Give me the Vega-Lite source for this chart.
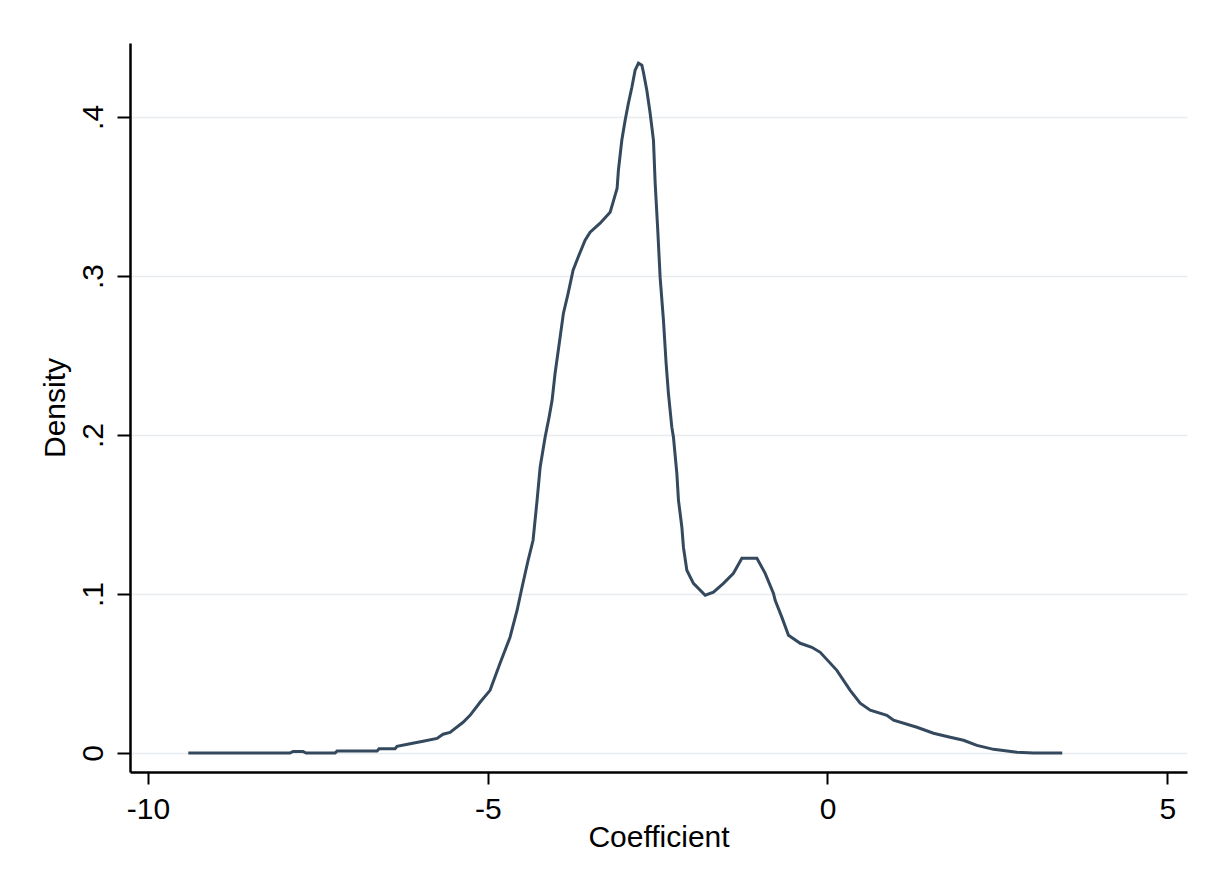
{
  "$schema": "https://vega.github.io/schema/vega-lite/v6.json",
  "width": 1057,
  "height": 729,
  "autosize": "none",
  "padding": {"left": 130, "top": 43, "right": 21, "bottom": 110},
  "background": "white",
  "config": {
    "view": {"stroke": null},
    "font": "Liberation Sans"
  },
  "data": {
    "values": [
      {"coef": -9.407, "density": 0},
      {"coef": -8.499, "density": 0},
      {"coef": -7.910, "density": 0},
      {"coef": -7.866, "density": 0.001},
      {"coef": -7.719, "density": 0.001},
      {"coef": -7.674, "density": 0},
      {"coef": -7.248, "density": 0},
      {"coef": -7.218, "density": 0.0012},
      {"coef": -6.629, "density": 0.0012},
      {"coef": -6.600, "density": 0.0027},
      {"coef": -6.364, "density": 0.0027},
      {"coef": -6.335, "density": 0.0042},
      {"coef": -6.143, "density": 0.0058},
      {"coef": -5.952, "density": 0.0074},
      {"coef": -5.746, "density": 0.0092},
      {"coef": -5.658, "density": 0.0118},
      {"coef": -5.555, "density": 0.013},
      {"coef": -5.363, "density": 0.0193},
      {"coef": -5.260, "density": 0.0237},
      {"coef": -5.113, "density": 0.0319},
      {"coef": -4.966, "density": 0.0394},
      {"coef": -4.819, "density": 0.0564},
      {"coef": -4.672, "density": 0.0728},
      {"coef": -4.568, "density": 0.0898},
      {"coef": -4.495, "density": 0.1042},
      {"coef": -4.406, "density": 0.1212},
      {"coef": -4.333, "density": 0.1338},
      {"coef": -4.274, "density": 0.1589},
      {"coef": -4.229, "density": 0.1797},
      {"coef": -4.156, "density": 0.1986},
      {"coef": -4.097, "density": 0.2112},
      {"coef": -4.053, "density": 0.2218},
      {"coef": -4.009, "density": 0.2388},
      {"coef": -3.935, "density": 0.2615},
      {"coef": -3.886, "density": 0.2766},
      {"coef": -3.817, "density": 0.2891},
      {"coef": -3.744, "density": 0.3036},
      {"coef": -3.670, "density": 0.3118},
      {"coef": -3.567, "density": 0.3225},
      {"coef": -3.493, "density": 0.3275},
      {"coef": -3.346, "density": 0.3332},
      {"coef": -3.199, "density": 0.3401},
      {"coef": -3.155, "density": 0.3464},
      {"coef": -3.096, "density": 0.3552},
      {"coef": -3.077, "density": 0.3665},
      {"coef": -3.027, "density": 0.3853},
      {"coef": -2.978, "density": 0.3979},
      {"coef": -2.930, "density": 0.4086},
      {"coef": -2.879, "density": 0.4187},
      {"coef": -2.831, "density": 0.4294},
      {"coef": -2.782, "density": 0.4338},
      {"coef": -2.732, "density": 0.4325},
      {"coef": -2.709, "density": 0.4281},
      {"coef": -2.659, "density": 0.4168},
      {"coef": -2.610, "density": 0.4023},
      {"coef": -2.561, "density": 0.3853},
      {"coef": -2.536, "density": 0.3583},
      {"coef": -2.500, "density": 0.3306},
      {"coef": -2.463, "density": 0.2991},
      {"coef": -2.414, "density": 0.2721},
      {"coef": -2.375, "density": 0.2451},
      {"coef": -2.341, "density": 0.2262},
      {"coef": -2.291, "density": 0.2049},
      {"coef": -2.267, "density": 0.1986},
      {"coef": -2.217, "density": 0.1759},
      {"coef": -2.193, "density": 0.1589},
      {"coef": -2.143, "density": 0.1420},
      {"coef": -2.120, "density": 0.1294},
      {"coef": -2.070, "density": 0.1149},
      {"coef": -1.973, "density": 0.1067},
      {"coef": -1.800, "density": 0.0992},
      {"coef": -1.678, "density": 0.1011},
      {"coef": -1.531, "density": 0.1067},
      {"coef": -1.384, "density": 0.1130},
      {"coef": -1.260, "density": 0.1224},
      {"coef": -1.039, "density": 0.1224},
      {"coef": -0.917, "density": 0.1130},
      {"coef": -0.795, "density": 0.1004},
      {"coef": -0.770, "density": 0.0960},
      {"coef": -0.671, "density": 0.0853},
      {"coef": -0.574, "density": 0.0740},
      {"coef": -0.402, "density": 0.0690},
      {"coef": -0.230, "density": 0.0665},
      {"coef": -0.107, "density": 0.0633},
      {"coef": 0.138, "density": 0.0520},
      {"coef": 0.334, "density": 0.0394},
      {"coef": 0.481, "density": 0.0313},
      {"coef": 0.629, "density": 0.0269},
      {"coef": 0.874, "density": 0.0237},
      {"coef": 0.972, "density": 0.0206},
      {"coef": 1.316, "density": 0.0162},
      {"coef": 1.560, "density": 0.0124},
      {"coef": 1.806, "density": 0.0099},
      {"coef": 2.002, "density": 0.0080},
      {"coef": 2.199, "density": 0.0048},
      {"coef": 2.444, "density": 0.0023},
      {"coef": 2.788, "density": 0.0004},
      {"coef": 3.033, "density": 0},
      {"coef": 3.455, "density": 0}
    ]
  },
  "mark": {"type": "line", "color": "#34495e", "strokeWidth": 3, "interpolate": "linear"},
  "encoding": {
    "x": {
      "field": "coef",
      "type": "quantitative",
      "scale": {"domain": [-10.265, 5.291], "nice": false, "zero": false},
      "axis": {
        "title": "Coefficient",
        "values": [-10, -5, 0, 5],
        "labelExpr": "'' + datum.value",
        "grid": false,
        "domainColor": "black",
        "domainWidth": 2.5,
        "tickColor": "black",
        "tickWidth": 2,
        "tickSize": 12,
        "labelPadding": 10,
        "labelFontSize": 30,
        "labelColor": "black",
        "labelFont": "Liberation Sans",
        "labelBaseline": "top",
        "titleFontSize": 30,
        "titleFontWeight": "normal",
        "titleColor": "black",
        "titleFont": "Liberation Sans",
        "titleBaseline": "alphabetic",
        "titleY": 74
      }
    },
    "y": {
      "field": "density",
      "type": "quantitative",
      "scale": {"domain": [-0.01195, 0.4465], "nice": false, "zero": false},
      "axis": {
        "title": "Density",
        "values": [0, 0.1, 0.2, 0.3, 0.4],
        "labelExpr": "datum.value == 0 ? '0' : replace(format(datum.value, '.1f'), '0.', '.')",
        "grid": true,
        "gridColor": "#e8ecee",
        "gridWidth": 1.5,
        "domainColor": "black",
        "domainWidth": 2.5,
        "tickColor": "black",
        "tickWidth": 2,
        "tickSize": 13,
        "labelAngle": -90,
        "labelAlign": "center",
        "labelBaseline": "alphabetic",
        "labelPadding": 15,
        "labelFontSize": 30,
        "labelColor": "black",
        "labelFont": "Liberation Sans",
        "titleFontSize": 30,
        "titleFontWeight": "normal",
        "titleColor": "black",
        "titleFont": "Liberation Sans",
        "titleAngle": -90,
        "titleAlign": "center",
        "titleBaseline": "alphabetic",
        "titleX": -66
      }
    }
  }
}
